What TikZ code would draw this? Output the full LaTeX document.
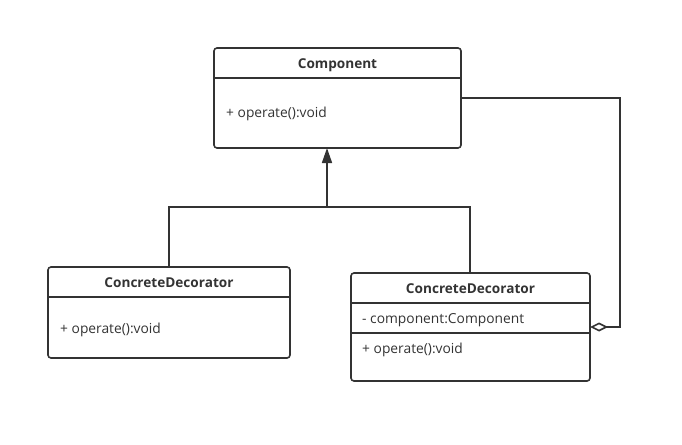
\documentclass[tikz,border=0pt]{standalone}
\usepackage{fontspec}
\setmainfont{Open Sans}
\usetikzlibrary{arrows.meta}
\definecolor{ink}{HTML}{333333}
\begin{document}
\begin{tikzpicture}[x=1pt,y=-1pt,
  cls/.style={draw=ink,line width=1.6pt,rounded corners=3pt},
  sep/.style={draw=ink,line width=1.6pt},
  conn/.style={draw=ink,line width=1.6pt},
  title/.style={font=\fontsize{13.6}{16}\selectfont\bfseries,text=ink,inner sep=0pt,anchor=base},
  member/.style={font=\fontsize{13.8}{16}\selectfont,text=ink,inner sep=0pt,anchor=base west}]
\useasboundingbox (0,0) rectangle (682,444);
% Component
\draw[cls] (214,48) rectangle (461,148);
\draw[sep] (214,78) -- (461,78);
\node[title] (ct) at (337.5,68) {Component};
\node[member] (cop) at (226,117) {+ operate():void};
\coordinate (cbot) at (327,148);
\coordinate (cright) at (461,98);
% Left decorator
\draw[cls] (48,267) rectangle (290,358);
\draw[sep] (48,297) -- (290,297);
\node[title] (lt) at (169,287) {ConcreteDecorator};
\node[member] (lop) at (60,333) {+ operate():void};
\coordinate (ltop) at (169,267);
% Right decorator
\draw[cls] (351,273) rectangle (590,381);
\draw[sep] (351,303) -- (590,303);
\draw[sep] (351,333) -- (590,333);
\node[title] (rt) at (470.5,293) {ConcreteDecorator};
\node[member] (rat) at (362,323) {- component:Component};
\node[member] (rop) at (362,353) {+ operate():void};
\coordinate (rtop) at (470,273);
\coordinate (rright) at (590,327);
% inheritance
\coordinate (j) at (327,207);
\draw[conn,-{Triangle[length=15pt,width=10pt]}] (j) -- (cbot);
\draw[conn] (ltop) |- (j) -| (rtop);
% aggregation
\draw[conn,-{Diamond[open,length=18pt,width=9pt,fill=white]}] (cright) -| (620,327) -- (rright);
\end{tikzpicture}
\end{document}
